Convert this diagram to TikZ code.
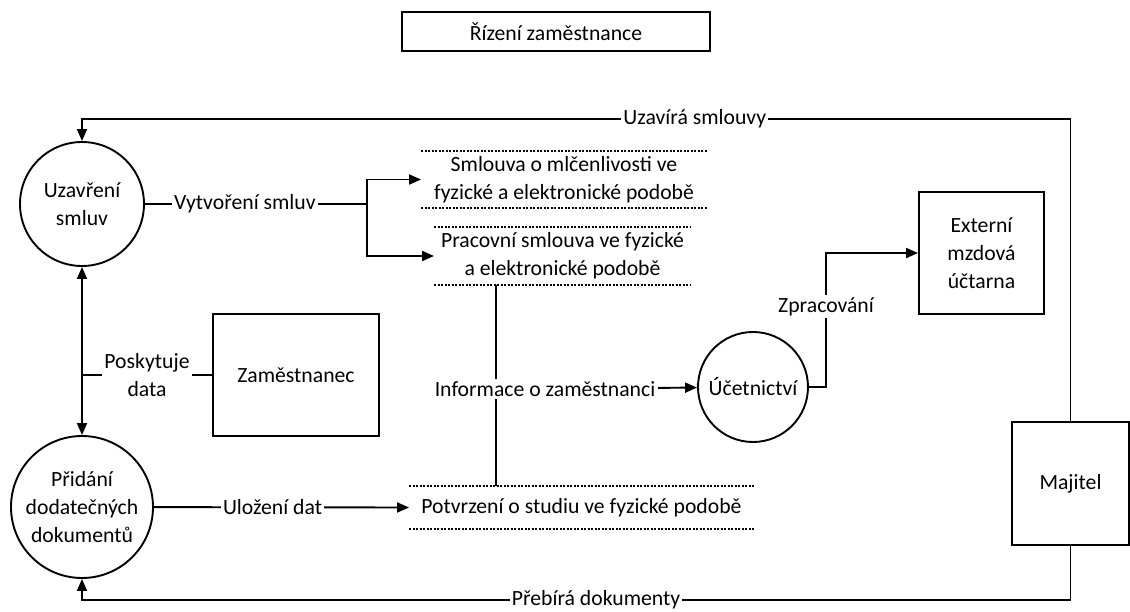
\documentclass[tikz,border=0pt]{standalone}
\usepackage{fontspec}
\setmainfont{Carlito}
\usetikzlibrary{
    arrows.meta,
    positioning
}

\begin{document}
\begin{tikzpicture}[x=1pt, y=-1pt, line width=1.9pt,
    every node/.style={font=\fontsize{21.7}{28}\selectfont},
    >={Triangle[length=12pt,width=10pt]},
    process/.style={circle, draw, align=center, inner sep=0pt},
    entity/.style={rectangle, draw, align=center, inner sep=0pt},
    store/.style={align=center, inner sep=0pt},
    storeline/.style={line width=1.2pt, dash pattern=on 2.2pt off 1.3pt},
    flow/.style={fill=white, inner sep=2pt, align=center}]
    \useasboundingbox (0,0) rectangle (1130,612);
    \node[entity, minimum width=308pt, minimum height=39pt] (title) at (556,31.5) {Řízení zaměstnance};
    \node[process, minimum size=124pt] (smlouvy) at (82,204) {Uzavření\\smluv};
    \node[process, minimum size=142pt] (pridani) at (82,507) {Přidání\\dodatečných\\dokumentů};
    \node[entity, minimum width=166pt, minimum height=122pt] (zam) at (296,375) {Zaměstnanec};
    \node[store, minimum width=284pt, minimum height=55pt] (mlc) at (564,179.5) {Smlouva o mlčenlivosti ve\\fyzické a elektronické podobě};
    \node[store, minimum width=255pt, minimum height=56pt] (prac) at (562.5,256) {Pracovní smlouva ve fyzické\\a elektronické podobě};
    \node[store, minimum width=343pt, minimum height=41pt] (potv) at (581.5,507.5) {Potvrzení o studiu ve fyzické podobě};
    \node[process, minimum size=110pt] (ucet) at (753,387) {Účetnictví};
    \node[entity, minimum width=125pt, minimum height=122pt] (ext) at (981.5,253) {Externí\\mzdová\\účtarna};
    \node[entity, minimum width=117pt, minimum height=123pt] (maj) at (1070.5,483.5) {Majitel};
    \coordinate (horni) at (0,119);
    \coordinate (dolni) at (0,600);
    \coordinate (rozdel) at (367,204);
    \coordinate (spoj) at (496,389);
    \coordinate (zlom) at (826,387);
    \foreach \s in {mlc,prac,potv}
        \draw[storeline] (\s.north west) -- (\s.north east) (\s.south west) -- (\s.south east);
    \draw[->] (maj.north) |- node[flow, pos=0.69] {Uzavírá smlouvy} (smlouvy.north |- horni) -- (smlouvy.north);
    \draw[->] (maj.south) |- node[flow, pos=0.74] {Přebírá dokumenty} (pridani.south |- dolni) -- (pridani.south);
    \draw[<->] (smlouvy) -- (pridani);
    \draw (zam.west) -- node[flow] {Poskytuje\\data} (zam.west -| smlouvy.south);
    \draw (smlouvy) -- node[flow, pos=0.45] {Vytvoření smluv} (rozdel);
    \draw[->] (rozdel) |- (mlc.west);
    \draw[->] (rozdel) |- (prac.west);
    \draw (spoj |- prac.south) -- (spoj |- potv.north);
    \draw[->] (pridani) -- node[flow, pos=0.465] {Uložení dat} (potv.west);
    \node[flow] (info) at (545,389) {Informace o zaměstnanci};
    \draw[->] (info) -- (ucet);
    \draw[->] (ucet) -- (zlom) -- node[flow, pos=0.6] {Zpracování} (zlom |- ext.west) -- (ext.west);
\end{tikzpicture}
\end{document}
